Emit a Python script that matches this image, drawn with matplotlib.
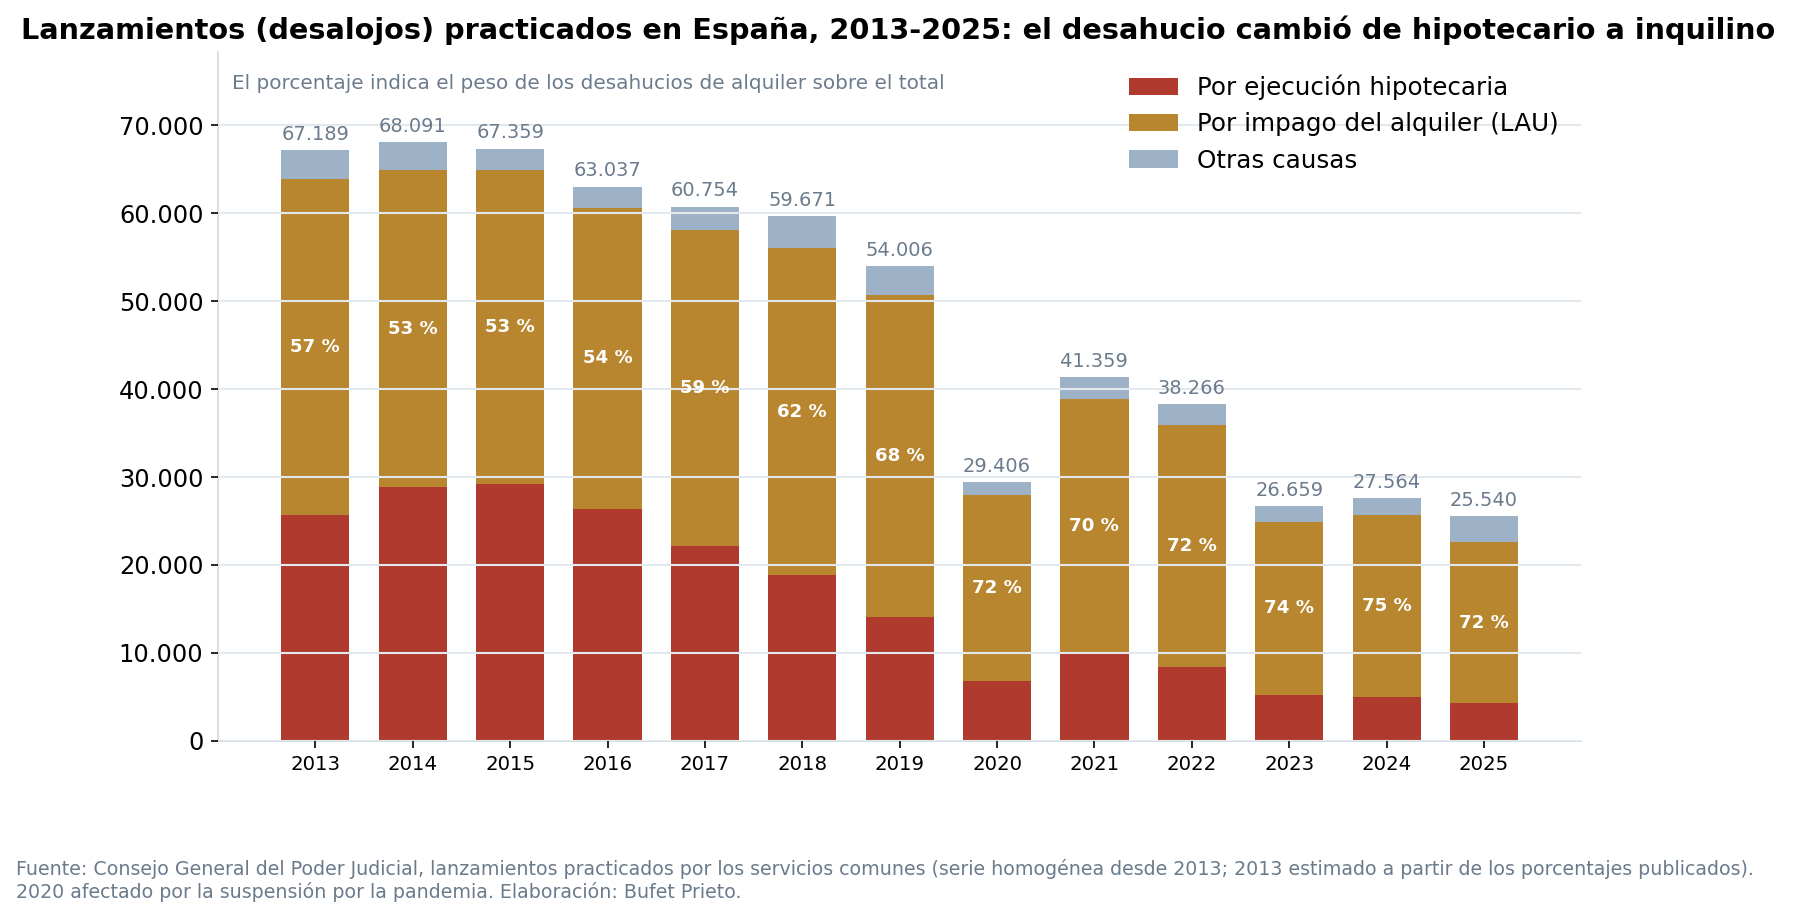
import matplotlib.pyplot as plt
from matplotlib.ticker import FuncFormatter

years = ["2013", "2014", "2015", "2016", "2017", "2018", "2019",
         "2020", "2021", "2022", "2023", "2024", "2025"]
hipotecaria = [25700, 28830, 29220, 26360, 22210, 18830, 14030,
               6750, 9900, 8440, 5190, 5000, 4290]
alquiler = [38200, 36110, 35720, 34290, 35840, 37170, 36620,
            21170, 29000, 27530, 19750, 20650, 18310]
totales = [67189, 68091, 67359, 63037, 60754, 59671, 54006,
           29406, 41359, 38266, 26659, 27564, 25540]
otras = [t - h - a for t, h, a in zip(totales, hipotecaria, alquiler)]

c_hip = "#b03a2e"
c_alq = "#b8862f"
c_otr = "#9db2c7"
c_gray = "#6b7b8c"

fig = plt.figure(figsize=(11.98, 6.12), dpi=150)
ax = fig.add_axes([0.1213, 0.193, 0.7587, 0.750])

x = range(len(years))
w = 0.7
ax.bar(x, hipotecaria, w, color=c_hip, label="Por ejecución hipotecaria", zorder=1)
ax.bar(x, alquiler, w, bottom=hipotecaria, color=c_alq,
       label="Por impago del alquiler (LAU)", zorder=1)
base2 = [h + a for h, a in zip(hipotecaria, alquiler)]
ax.bar(x, otras, w, bottom=base2, color=c_otr, label="Otras causas", zorder=1)

for i in x:
    ax.text(i, totales[i] + 700, f"{totales[i]:,}".replace(",", "."),
            ha="center", va="bottom", fontsize=9.3, color=c_gray, zorder=4)
    pct = round(alquiler[i] / totales[i] * 100)
    ax.text(i, hipotecaria[i] + alquiler[i] / 2, f"{pct} %", ha="center",
            va="center", fontsize=8.7, fontweight="bold", color="white", zorder=4)

ax.set_xlim(-1, len(years))
ax.set_ylim(0, max(totales) * 1.15)
ax.set_xticks(list(x))
ax.set_xticklabels(years, fontsize=9.5)
ax.tick_params(axis="y", labelsize=11.6)
ax.yaxis.set_major_formatter(FuncFormatter(lambda v, p: f"{int(v):,}".replace(",", ".")))
ax.grid(axis="y", color="#e3e8ee", linewidth=1.0, zorder=2)
ax.set_axisbelow(False)
for s in ["top", "right"]:
    ax.spines[s].set_visible(False)
for s in ["left", "bottom"]:
    ax.spines[s].set_color("#d0d9e2")

ax.text(0.01, 0.955, "El porcentaje indica el peso de los desahucios de alquiler sobre el total",
        transform=ax.transAxes, fontsize=9.6, color=c_gray, va="center")
ax.legend(loc="upper right", frameon=False, fontsize=11.8)

fig.suptitle("Lanzamientos (desalojos) practicados en España, 2013-2025: el desahucio cambió de hipotecario a inquilino",
             fontsize=13.8, fontweight="bold", y=0.967, va="center")
fig.text(0.009, 0.041,
         "Fuente: Consejo General del Poder Judicial, lanzamientos practicados por los servicios comunes "
         "(serie homogénea desde 2013; 2013 estimado a partir de los porcentajes publicados).\n"
         "2020 afectado por la suspensión por la pandemia. Elaboración: Bufet Prieto.",
         fontsize=9.1, color=c_gray, va="center")

fig.savefig("out.png", dpi=150)
